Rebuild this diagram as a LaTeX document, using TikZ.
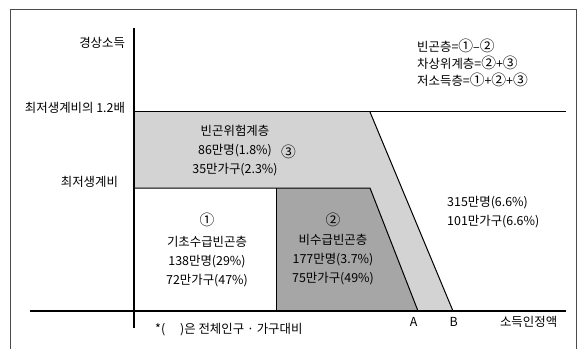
\documentclass[tikz,border=0pt]{standalone}
\usepackage{fontspec}
\setmainfont{Noto Sans CJK KR}
\definecolor{lightband}{RGB}{211,211,211}
\definecolor{darkband}{RGB}{166,166,166}
\newcommand{\cnum}[1]{{\fontsize{12.6}{12}\selectfont #1}}
\tikzset{
  txt/.style={inner sep=0pt, align=center, font=\fontsize{10.6}{16.2}\selectfont},
  thinline/.style={line width=0.030cm},
  axisline/.style={line width=0.045cm}
}
\begin{document}
\begin{tikzpicture}
            \useasboundingbox (0,0) rectangle (17.400000,10.470000);
            
            % Drawing frame
            \draw [line width=0.020cm, black!70] (0.300000,0.000000) -- (0.300000,10.200000) -- (17.280000,10.200000) -- (17.280000,0.000000);%
            
            % Filling band between 1 and 1.2 times
            \fill [lightband] (4.020000,7.110000) -- (11.100000,7.110000) -- (13.590000,1.140000) -- (8.280000,1.140000) -- (8.280000,4.830000) -- (4.020000,4.830000) -- cycle;%
            
            % Filling region 2
            \fill [darkband] (8.280000,4.830000) -- (11.100000,4.830000) -- (12.540000,1.140000) -- (8.280000,1.140000) -- cycle;%
            
            % Drawing borders of regions
            \draw [thinline] (4.020000,4.830000) -- (11.100000,4.830000) -- (12.540000,1.140000);%
            \draw [thinline] (8.280000,1.140000) -- (8.280000,4.830000);%
            \draw [thinline] (11.100000,7.110000) -- (13.590000,1.140000);%
            \draw [thinline] (4.020000,7.110000) -- (16.980000,7.110000);%
            
            % Drawing axes
            \draw [axisline] (4.020000,0.630000) -- (4.020000,9.630000);%
            \draw [axisline] (0.900000,1.140000) -- (16.980000,1.140000);%
            
            % Marking levels on vertical axis
            \draw (3.840000,9.180000) node [txt, anchor=east] (income) { 경상소득 };%
            \draw (3.840000,7.230000) node [txt, anchor=east] (level12) { 최저생계비의 1.2배 };%
            \draw (3.630000,5.010000) node [txt, anchor=east] (level1) { 최저생계비 };%
            
            % Marking legend
            \draw (12.510000,8.580000) node [txt, anchor=west, align=left, font=\fontsize{10.6}{14.4}\selectfont] (legend) { 빈곤층=\cnum{①}–\cnum{②}\\ 차상위계층=\cnum{②}+\cnum{③}\\ 저소득층=\cnum{①}+\cnum{②}+\cnum{③} };%
            
            % Marking region 3
            \draw (7.050000,5.940000) node [txt] (risk) { 빈곤위험계층\\ 86만명(1.8\%)\\ 35만가구(2.3\%) };%
            \draw (8.700000,5.910000) node [txt] (three) { \cnum{③} };%
            
            % Marking region 1
            \draw (6.210000,2.970000) node [txt] (basic) { \cnum{①}\\[2pt] 기초수급빈곤층\\ 138만명(29\%)\\ 72만가구(47\%) };%
            
            % Marking region 2
            \draw (9.990000,3.000000) node [txt] (nonbasic) { \cnum{②}\\ 비수급빈곤층\\ 177만명(3.7\%)\\ 75만가구(49\%) };%
            
            % Marking outside region
            \draw (13.410000,4.095000) node [txt, anchor=west, align=left] (rest) { 315만명(6.6\%)\\ 101만가구(6.6\%) };%
            
            % Marking points A and B on horizontal axis
            \draw (12.450000,0.810000) node [txt] (A) { A };%
            \draw (13.650000,0.810000) node [txt] (B) { B };%
            \draw (15.900000,0.810000) node [txt] (recog) { 소득인정액 };%
            
            % Marking note
            \draw (4.650000,0.570000) node [txt, anchor=west] (note) { *(\hspace{1.2em})은 전체인구 · 가구대비 };%
        \end{tikzpicture}
\end{document}
